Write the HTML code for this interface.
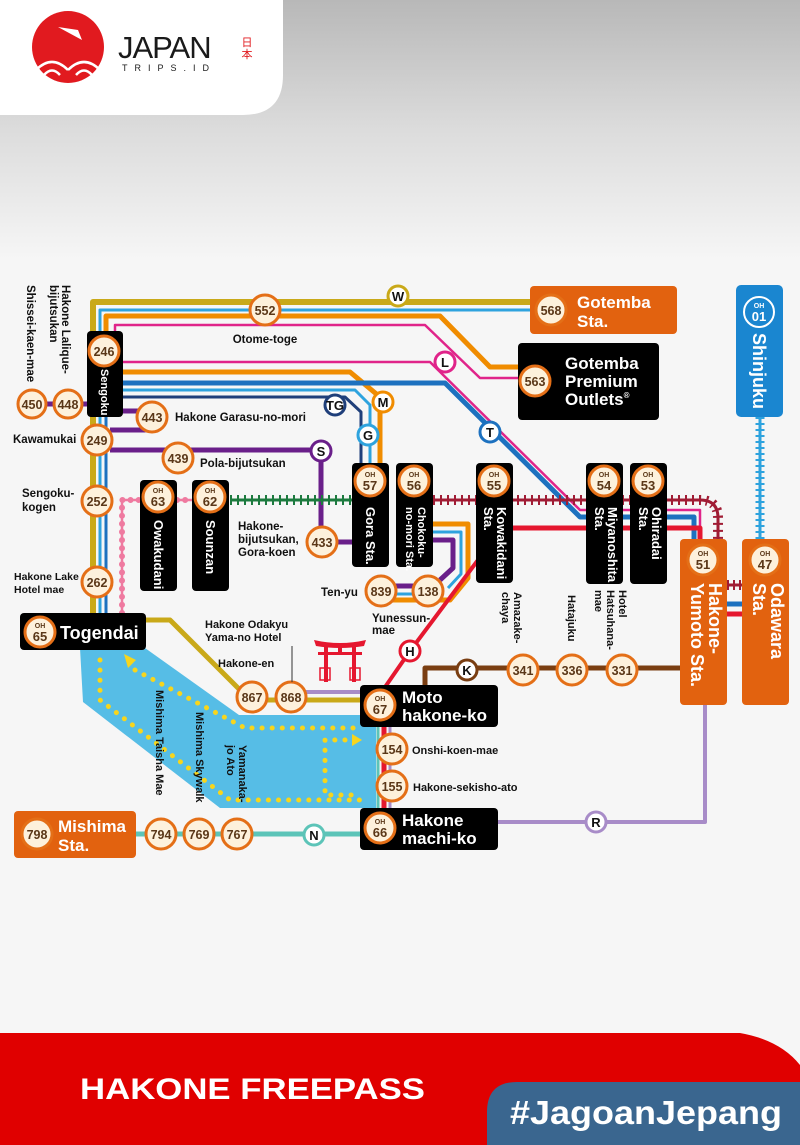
<!DOCTYPE html>
<html><head><meta charset="utf-8"><style>
html,body{margin:0;padding:0;width:800px;height:1145px;overflow:hidden;background:#f6f6f6}
svg{display:block}
text{font-family:"Liberation Sans",Arial,sans-serif}
.st circle{fill:#fdf1dc;stroke:#e46f17;stroke-width:3}
.st text{font-size:12.5px;font-weight:bold;fill:#5a3718;text-anchor:middle}
.oh circle{fill:#fdf1dc;stroke:#e46f17;stroke-width:3}
.oh text{font-weight:bold;fill:#5a3718;text-anchor:middle}
.lb circle{fill:#fff;stroke-width:3}
.lb text{font-size:13px;font-weight:bold;fill:#111;text-anchor:middle}
.lab{font-size:11.5px;font-weight:bold;fill:#111}
</style></head><body>
<svg width="800" height="1145" viewBox="0 0 800 1145" xmlns="http://www.w3.org/2000/svg">
<defs>
<linearGradient id="hg" x1="0" y1="0" x2="0" y2="1">
<stop offset="0" stop-color="#b8b8b8"/><stop offset="0.5" stop-color="#dcdcdc"/><stop offset="1" stop-color="#f6f6f6"/>
</linearGradient>
</defs>
<rect width="800" height="260" fill="url(#hg)"/>
<path d="M0,0 H283 V75 Q283,115 243,115 H0 Z" fill="#fff"/>
<!-- logo -->
<circle cx="68" cy="47" r="36" fill="#e11a1f"/>
<path d="M58,27 L78,30 L82,40 Z" fill="#fff"/>
<g fill="none" stroke="#fff" stroke-width="2.5">
<path d="M36,70 Q52,54 68,70"/><path d="M44,75 Q52,66 60,75"/><path d="M68,70 Q84,54 100,70"/><path d="M76,75 Q84,66 92,75"/>
</g>
<text x="118" y="58" font-size="31" fill="#1a1a1a" style="font-weight:300;letter-spacing:-1px">JAPAN</text>
<text x="122" y="71" font-size="9" fill="#1a1a1a" style="letter-spacing:7px">TRIPS.ID</text>
<text x="247" y="46" font-size="11" fill="#e11a1f" text-anchor="middle" style="font-family:'Noto Sans CJK JP',sans-serif">日</text>
<text x="247" y="58" font-size="11" fill="#e11a1f" text-anchor="middle" style="font-family:'Noto Sans CJK JP',sans-serif">本</text>

<!-- lake -->
<path d="M80,648 L145,648 L239,715 L376,715 L376,808 L220,808 L83,702 Z" fill="#56bde6"/>
<g fill="none" stroke="#f7d51d" stroke-width="5" stroke-linecap="round" stroke-dasharray="0.1,10">
<path d="M100,660 V700 L230,800 H365"/>
<path d="M135,670 L245,728 H360"/>
<path d="M345,740 H325 V795 H355"/>
</g>
<path d="M124,654 L136,660 L128,668 Z" fill="#f7d51d"/>
<path d="M352,734 L362,740 L352,746 Z" fill="#f7d51d"/>

<!-- lines -->
<g fill="none" stroke-linejoin="round">
<path d="M93,620 V302 H530" stroke="#c9a919" stroke-width="6"/>
<path d="M100,620 V310 H530" stroke="#2ea3de" stroke-width="3"/>
<path d="M106,620 V331" stroke="#1d71bf" stroke-width="3"/>
<path d="M106,331 V316 H440 L490,367 H520" stroke="#f08c00" stroke-width="5"/>
<path d="M115,331 V325 H425 L480,378 H520" stroke="#e0248a" stroke-width="2.5"/>
<path d="M123,362 H430 L580,510 H700 V540" stroke="#e0248a" stroke-width="2.5"/>
<path d="M123,372 H350 L380,397 V463" stroke="#f08c00" stroke-width="5"/>
<path d="M123,383 H445 L580,517 H694 V540" stroke="#1d71bf" stroke-width="5"/>
<path d="M123,390 H355 L370,405 V463" stroke="#2ea3de" stroke-width="3"/>
<path d="M123,397 H345 L361,412 V463" stroke="#1f3f7a" stroke-width="3"/>
<path d="M32,404 H87" stroke="#6a1f8a" stroke-width="5"/>
<path d="M123,411 H145" stroke="#6a1f8a" stroke-width="5"/>
<path d="M110,430 H145 L152,420" stroke="#6a1f8a" stroke-width="5"/>
<path d="M110,450 H321 V542 H352" stroke="#6a1f8a" stroke-width="5"/>
<path d="M433,532 H461 V574 L448,588" stroke="#2ea3de" stroke-width="3"/>
<path d="M433,540 H453 V568 L440,580" stroke="#6a1f8a" stroke-width="5"/>
<path d="M433,524 H468 V578 L450,600 H381" stroke="#f08c00" stroke-width="5"/>
<path d="M381,586 H428" stroke="#6a1f8a" stroke-width="5"/>
<path d="M381,594 H428" stroke="#2ea3de" stroke-width="3"/>
<path d="M500,528 H700 V540" stroke="#e5172f" stroke-width="5"/>
<path d="M478,560 L410,651 L383,690" stroke="#e5172f" stroke-width="4"/>
<path d="M384,727 V808" stroke="#e5172f" stroke-width="5"/>
<path d="M390,727 V808" stroke="#a88cc8" stroke-width="3"/>
<path d="M378,727 V808" stroke="#5cc4b8" stroke-width="3"/>
<path d="M705,705 V822 H498" stroke="#a88cc8" stroke-width="4"/>
<path d="M305,692 H360" stroke="#a88cc8" stroke-width="4"/>
<path d="M146,620 H170 L250,700 H360" stroke="#c9a919" stroke-width="5"/>
<path d="M425,685 V668 H690" stroke="#7a3e12" stroke-width="5"/>
<path d="M136,834 H360" stroke="#5cc4b8" stroke-width="5"/>
<path d="M230,500 H352" stroke="#1c7a3e" stroke-width="3"/>
<path d="M230,500 H352" stroke="#1c7a3e" stroke-width="10" stroke-dasharray="2,5"/>
<path d="M433,500 H700 Q718,500 718,518 V540" stroke="#a01c34" stroke-width="3"/>
<path d="M433,500 H700 Q718,500 718,518 V540" stroke="#a01c34" stroke-width="10" stroke-dasharray="2,5"/>
<path d="M727,585 H742" stroke="#a01c34" stroke-width="3"/>
<path d="M727,585 H742" stroke="#a01c34" stroke-width="10" stroke-dasharray="2,4"/>
<path d="M727,604 H742" stroke="#1d71bf" stroke-width="5"/>
<path d="M727,614 H742" stroke="#e5172f" stroke-width="5"/>
<path d="M760,417 V539" stroke="#2ea3de" stroke-width="3"/>
<path d="M760,417 V539" stroke="#2ea3de" stroke-width="9" stroke-dasharray="2,4"/>
<path d="M122,613 V500 H142 M177,500 H192" stroke="#ef7aa0" stroke-width="2.5"/>
<path d="M122,613 V500 H142 M177,500 H192" stroke="#ef7aa0" stroke-width="6" stroke-linecap="round" stroke-dasharray="0.1,8"/>
</g>

<!-- torii -->
<g fill="#e5172f">
<path d="M314,640 Q340,646 366,640 L364,646 Q340,650 316,646 Z"/>
<rect x="318" y="652" width="44" height="3"/>
<rect x="324" y="644" width="4" height="38"/><rect x="352" y="644" width="4" height="38"/>
<rect x="338" y="645" width="4" height="9"/>
<rect x="320" y="668" width="10" height="12" fill="none" stroke="#e5172f" stroke-width="1.5"/>
<rect x="350" y="668" width="10" height="12" fill="none" stroke="#e5172f" stroke-width="1.5"/>
</g>

<!-- boxes -->
<g>
<rect x="530" y="286" width="147" height="48" rx="4" fill="#e2620f"/>
<rect x="518" y="343" width="141" height="77" rx="4" fill="#000"/>
<rect x="736" y="285" width="47" height="132" rx="5" fill="#1a86d0"/>
<rect x="87" y="331" width="36" height="86" rx="4" fill="#000"/>
<rect x="140" y="480" width="37" height="111" rx="4" fill="#000"/>
<rect x="192" y="480" width="37" height="111" rx="4" fill="#000"/>
<rect x="352" y="463" width="37" height="104" rx="4" fill="#000"/>
<rect x="396" y="463" width="37" height="104" rx="4" fill="#000"/>
<rect x="476" y="463" width="37" height="120" rx="4" fill="#000"/>
<rect x="586" y="463" width="37" height="121" rx="4" fill="#000"/>
<rect x="630" y="463" width="37" height="121" rx="4" fill="#000"/>
<rect x="680" y="539" width="47" height="166" rx="4" fill="#e2620f"/>
<rect x="742" y="539" width="47" height="166" rx="4" fill="#e2620f"/>
<rect x="20" y="613" width="126" height="37" rx="4" fill="#000"/>
<rect x="360" y="685" width="138" height="42" rx="4" fill="#000"/>
<rect x="360" y="808" width="138" height="42" rx="4" fill="#000"/>
<rect x="14" y="811" width="122" height="47" rx="4" fill="#e2620f"/>
</g>

<!-- box texts -->
<g font-weight="bold" fill="#fff">
<text x="577" y="308" font-size="17">Gotemba</text><text x="577" y="327" font-size="17">Sta.</text>
<text x="565" y="369" font-size="17">Gotemba</text><text x="565" y="387" font-size="17">Premium</text><text x="565" y="405" font-size="17">Outlets<tspan font-size="8" dy="-7">®</tspan></text>
<text font-size="18" transform="translate(753,333) rotate(90)">Shinjuku</text>
<text font-size="11" transform="translate(101,369) rotate(90)">Sengoku</text>
<text font-size="13" transform="translate(154,520) rotate(90)">Owakudani</text>
<text font-size="13" transform="translate(206,520) rotate(90)">Sounzan</text>
<text font-size="13" transform="translate(366,507) rotate(90)">Gora Sta.</text>
<text font-size="11" transform="translate(418,507) rotate(90)">Chokoku-</text>
<text font-size="11" transform="translate(406,507) rotate(90)">no-mori Sta.</text>
<text font-size="13" transform="translate(497,507) rotate(90)">Kowakidani</text>
<text font-size="13" transform="translate(484,507) rotate(90)">Sta.</text>
<text font-size="13" transform="translate(608,507) rotate(90)">Miyanoshita</text>
<text font-size="13" transform="translate(595,507) rotate(90)">Sta.</text>
<text font-size="13" transform="translate(652,507) rotate(90)">Ohiradai</text>
<text font-size="13" transform="translate(639,507) rotate(90)">Sta.</text>
<text font-size="18" transform="translate(709,583) rotate(90)">Hakone-</text>
<text font-size="18" transform="translate(691,583) rotate(90)">Yumoto Sta.</text>
<text font-size="18" transform="translate(771,583) rotate(90)">Odawara</text>
<text font-size="18" transform="translate(753,583) rotate(90)">Sta.</text>
<text x="60" y="639" font-size="18">Togendai</text>
<text x="402" y="703" font-size="17">Moto</text><text x="402" y="721" font-size="17">hakone-ko</text>
<text x="402" y="826" font-size="17">Hakone</text><text x="402" y="844" font-size="17">machi-ko</text>
<text x="58" y="832" font-size="17">Mishima</text><text x="58" y="851" font-size="17">Sta.</text>
</g>

<!-- OH badges -->
<g class="oh">
<g><circle cx="40" cy="632" r="15"/><text x="40" y="628" font-size="7">OH</text><text x="40" y="641" font-size="13">65</text></g>
<g><circle cx="158" cy="497" r="15"/><text x="158" y="493" font-size="7">OH</text><text x="158" y="506" font-size="13">63</text></g>
<g><circle cx="210" cy="497" r="15"/><text x="210" y="493" font-size="7">OH</text><text x="210" y="506" font-size="13">62</text></g>
<g><circle cx="370" cy="481" r="15"/><text x="370" y="477" font-size="7">OH</text><text x="370" y="490" font-size="13">57</text></g>
<g><circle cx="414" cy="481" r="15"/><text x="414" y="477" font-size="7">OH</text><text x="414" y="490" font-size="13">56</text></g>
<g><circle cx="494" cy="481" r="15"/><text x="494" y="477" font-size="7">OH</text><text x="494" y="490" font-size="13">55</text></g>
<g><circle cx="604" cy="481" r="15"/><text x="604" y="477" font-size="7">OH</text><text x="604" y="490" font-size="13">54</text></g>
<g><circle cx="648" cy="481" r="15"/><text x="648" y="477" font-size="7">OH</text><text x="648" y="490" font-size="13">53</text></g>
<g><circle cx="703" cy="560" r="15"/><text x="703" y="556" font-size="7">OH</text><text x="703" y="569" font-size="13">51</text></g>
<g><circle cx="765" cy="560" r="15"/><text x="765" y="556" font-size="7">OH</text><text x="765" y="569" font-size="13">47</text></g>
<g><circle cx="380" cy="705" r="15"/><text x="380" y="701" font-size="7">OH</text><text x="380" y="714" font-size="13">67</text></g>
<g><circle cx="380" cy="828" r="15"/><text x="380" y="824" font-size="7">OH</text><text x="380" y="837" font-size="13">66</text></g>
</g>
<g><circle cx="759" cy="312" r="15" fill="#1a86d0" stroke="#fff" stroke-width="2"/><text x="759" y="308" font-size="7" font-weight="bold" fill="#fff" text-anchor="middle">OH</text><text x="759" y="321" font-size="13" font-weight="bold" fill="#fff" text-anchor="middle">01</text></g>

<!-- stations -->
<g class="st">
<g><circle cx="265" cy="310" r="15"/><text x="265" y="315">552</text></g>
<g><circle cx="551" cy="310" r="15"/><text x="551" y="315">568</text></g>
<g><circle cx="535" cy="381" r="15"/><text x="535" y="386">563</text></g>
<g><circle cx="104" cy="351" r="15"/><text x="104" y="356">246</text></g>
<g><circle cx="32" cy="404" r="14"/><text x="32" y="409">450</text></g>
<g><circle cx="68" cy="404" r="14"/><text x="68" y="409">448</text></g>
<g><circle cx="152" cy="417" r="15"/><text x="152" y="422">443</text></g>
<g><circle cx="97" cy="440" r="15"/><text x="97" y="445">249</text></g>
<g><circle cx="178" cy="458" r="15"/><text x="178" y="463">439</text></g>
<g><circle cx="97" cy="501" r="15"/><text x="97" y="506">252</text></g>
<g><circle cx="97" cy="582" r="15"/><text x="97" y="587">262</text></g>
<g><circle cx="322" cy="542" r="15"/><text x="322" y="547">433</text></g>
<g><circle cx="381" cy="591" r="15"/><text x="381" y="596">839</text></g>
<g><circle cx="428" cy="591" r="15"/><text x="428" y="596">138</text></g>
<g><circle cx="252" cy="697" r="15"/><text x="252" y="702">867</text></g>
<g><circle cx="291" cy="697" r="15"/><text x="291" y="702">868</text></g>
<g><circle cx="523" cy="670" r="15"/><text x="523" y="675">341</text></g>
<g><circle cx="572" cy="670" r="15"/><text x="572" y="675">336</text></g>
<g><circle cx="622" cy="670" r="15"/><text x="622" y="675">331</text></g>
<g><circle cx="392" cy="749" r="15"/><text x="392" y="754">154</text></g>
<g><circle cx="392" cy="786" r="15"/><text x="392" y="791">155</text></g>
<g><circle cx="161" cy="834" r="15"/><text x="161" y="839">794</text></g>
<g><circle cx="199" cy="834" r="15"/><text x="199" y="839">769</text></g>
<g><circle cx="237" cy="834" r="15"/><text x="237" y="839">767</text></g>
<g><circle cx="37" cy="834" r="15"/><text x="37" y="839">798</text></g>
</g>

<!-- route letters -->
<g class="lb">
<g><circle cx="398" cy="296" r="10" stroke="#c9a919"/><text x="398" y="301">W</text></g>
<g><circle cx="445" cy="362" r="10" stroke="#e0248a"/><text x="445" y="367">L</text></g>
<g><circle cx="383" cy="402" r="10" stroke="#f08c00"/><text x="383" y="407">M</text></g>
<g><circle cx="335" cy="405" r="10" stroke="#1f3f7a"/><text x="335" y="410" font-size="11">TG</text></g>
<g><circle cx="368" cy="435" r="10" stroke="#2ea3de"/><text x="368" y="440">G</text></g>
<g><circle cx="490" cy="432" r="10" stroke="#1d71bf"/><text x="490" y="437">T</text></g>
<g><circle cx="321" cy="451" r="10" stroke="#6a1f8a"/><text x="321" y="456">S</text></g>
<g><circle cx="410" cy="651" r="10" stroke="#e5172f"/><text x="410" y="656">H</text></g>
<g><circle cx="467" cy="670" r="10" stroke="#7a3e12"/><text x="467" y="675">K</text></g>
<g><circle cx="314" cy="835" r="10" stroke="#5cc4b8"/><text x="314" y="840">N</text></g>
<g><circle cx="596" cy="822" r="10" stroke="#a88cc8"/><text x="596" y="827">R</text></g>
</g>

<!-- labels -->
<g class="lab">
<text x="265" y="343" text-anchor="middle">Otome-toge</text>
<text x="175" y="421">Hakone Garasu-no-mori</text>
<text x="13" y="443">Kawamukai</text>
<text x="200" y="467">Pola-bijutsukan</text>
<text x="22" y="497">Sengoku-</text><text x="22" y="511">kogen</text>
<text x="238" y="530">Hakone-</text><text x="238" y="543">bijutsukan,</text><text x="238" y="556">Gora-koen</text>
<text x="14" y="580" font-size="10.5">Hakone Lake</text><text x="14" y="593" font-size="10.5">Hotel mae</text>
<text x="321" y="596">Ten-yu</text>
<text x="372" y="622">Yunessun-</text><text x="372" y="634">mae</text>
<text x="205" y="628" font-size="11">Hakone Odakyu</text><text x="205" y="641" font-size="11">Yama-no Hotel</text>
<text x="218" y="667" font-size="11">Hakone-en</text>
<text x="412" y="754" font-size="11">Onshi-koen-mae</text>
<text x="413" y="791" font-size="11">Hakone-sekisho-ato</text>
<text transform="translate(62,285) rotate(90)">Hakone Lalique-</text>
<text transform="translate(50,285) rotate(90)">bijutsukan</text>
<text transform="translate(27,285) rotate(90)">Shissei-kaen-mae</text>
<text font-size="11" transform="translate(514,592) rotate(90)">Amazake-</text>
<text font-size="11" transform="translate(502,592) rotate(90)">chaya</text>
<text font-size="11" transform="translate(568,595) rotate(90)">Hatajuku</text>
<text font-size="11" transform="translate(619,590) rotate(90)">Hotel</text>
<text font-size="11" transform="translate(607,590) rotate(90)">Hatsuhana-</text>
<text font-size="11" transform="translate(595,590) rotate(90)">mae</text>
<text font-size="11" transform="translate(156,690) rotate(90)">Mishima Taisha Mae</text>
<text font-size="11" transform="translate(196,712) rotate(90)">Mishima Skywalk</text>
<text font-size="11" transform="translate(239,745) rotate(90)">Yamanaka-</text>
<text font-size="11" transform="translate(227,745) rotate(90)">jo Ato</text>
<line x1="292" y1="646" x2="292" y2="682" stroke="#333" stroke-width="1"/>
</g>

<!-- footer -->
<path d="M0,1033 H740 Q780,1040 800,1065 V1145 H0 Z" fill="#e00000"/>
<path d="M487,1145 V1112 Q487,1082 517,1082 H800 V1145 Z" fill="#3a668f"/>
<text x="80" y="1099" font-size="30" font-weight="bold" fill="#fff" textLength="345" lengthAdjust="spacingAndGlyphs">HAKONE FREEPASS</text>
<text x="510" y="1124" font-size="33" font-weight="bold" fill="#fff" textLength="272" lengthAdjust="spacingAndGlyphs">#JagoanJepang</text>
</svg>
</body></html>
